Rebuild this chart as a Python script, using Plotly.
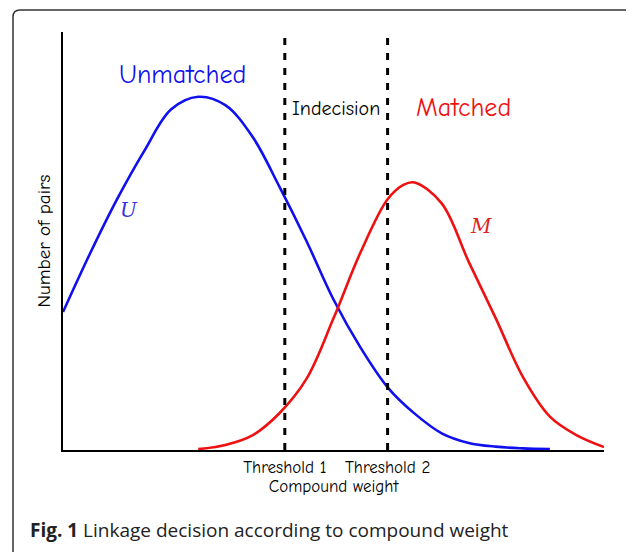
import plotly.graph_objects as go

# ---- data ----
u_x = [0.0, 0.5, 1.0, 1.5, 2.0, 2.5, 3.0, 3.5, 4.0, 4.5, 5.0, 5.5, 6.0, 6.5, 7.0, 7.5, 8.0, 8.5, 9.0]
u_y = [0.33, 0.47, 0.60, 0.715, 0.815, 0.845, 0.825, 0.75, 0.63, 0.50, 0.36, 0.245, 0.15, 0.087, 0.04, 0.017, 0.008, 0.004, 0.002]

m_x = [2.5, 3.0, 3.5, 4.0, 4.5, 5.0, 5.5, 6.0, 6.3, 6.5, 7.0, 7.5, 8.0, 8.5, 9.0, 9.5, 10.0]
m_y = [0.002, 0.012, 0.035, 0.088, 0.17, 0.315, 0.473, 0.60, 0.635, 0.64, 0.59, 0.45, 0.315, 0.175, 0.08, 0.035, 0.007]

thresholds = [4.1, 6.0]
threshold_labels = ["Threshold 1", "Threshold 2"]

HAND = "Comic Sans MS, Comic Neue, Lato, sans-serif"

# page body has an 8px margin: figure is placed at (8, 8)
OFF = 8
W, H = 634 - OFF, 552 - OFF
L, T, R, B = 63 - OFF, 32 - OFF, 30, 102

fig = go.Figure()
fig.add_trace(go.Scatter(x=u_x, y=u_y, mode="lines", line=dict(color="#1010ee", width=2.6, shape="spline"),
                         hoverinfo="skip", showlegend=False))
fig.add_trace(go.Scatter(x=m_x, y=m_y, mode="lines", line=dict(color="#ee1111", width=2.6, shape="spline"),
                         hoverinfo="skip", showlegend=False))

for t in thresholds:
    fig.add_shape(type="line", xref="x", yref="paper", x0=t, x1=t, y0=0, y1=1,
                  line=dict(color="black", width=3, dash="7px,8px"))

# border (rounded frame), page pixel -> paper coords
px = lambda p: (p - 63) / 541
py = lambda p: (450 - p) / 418
path = (f"M {px(13)},{py(560)} L {px(13)},{py(17)} Q {px(13)},{py(10)} {px(20)},{py(10)} "
        f"L {px(631)},{py(10)} Q {px(638)},{py(10)} {px(638)},{py(17)} L {px(638)},{py(560)}")
fig.add_shape(type="path", xref="paper", yref="paper", path=path, line=dict(color="#333333", width=1.5))

ann = [
    dict(x=2.2, y=0.897, text="Unmatched", font=dict(family=HAND, size=26, color="#1010ee")),
    dict(x=5.05, y=0.818, text="Indecision", font=dict(family=HAND, size=20, color="black")),
    dict(x=7.41, y=0.818, text="Matched", font=dict(family=HAND, size=26, color="#ee1111")),
    dict(x=1.22, y=0.574, text="<i>U</i>", font=dict(family="DejaVu Serif, serif", size=20, color="#3333dd")),
    dict(x=7.73, y=0.536, text="<i>M</i>", font=dict(family="DejaVu Serif, serif", size=20, color="#dd2222")),
]
for a in ann:
    fig.add_annotation(xref="x", yref="y", showarrow=False, **a)

fig.add_annotation(xref="paper", yref="paper", x=px(28), y=py(530), xanchor="left", yanchor="middle",
                   showarrow=False, text="<b>Fig. 1</b> Linkage decision according to compound weight",
                   font=dict(family="Open Sans, sans-serif", size=19, color="#222222"))

fig.update_xaxes(range=[0, 10], showline=True, linecolor="black", linewidth=2, showgrid=False, zeroline=False,
                 tickvals=thresholds, ticktext=threshold_labels, ticks="", ticklabelstandoff=1,
                 tickfont=dict(family=HAND, size=17, color="black"),
                 title=dict(text="Compound weight", font=dict(family=HAND, size=17, color="black"), standoff=4))
fig.update_yaxes(range=[0, 1], showline=True, linecolor="black", linewidth=2, showgrid=False, zeroline=False,
                 showticklabels=False, ticks="",
                 title=dict(text="Number of pairs", font=dict(family=HAND, size=19, color="black"), standoff=5))

fig.update_layout(width=W, height=H, margin=dict(l=L, r=R, t=T, b=B),
                  plot_bgcolor="white", paper_bgcolor="white")
fig.write_html("out.html")
